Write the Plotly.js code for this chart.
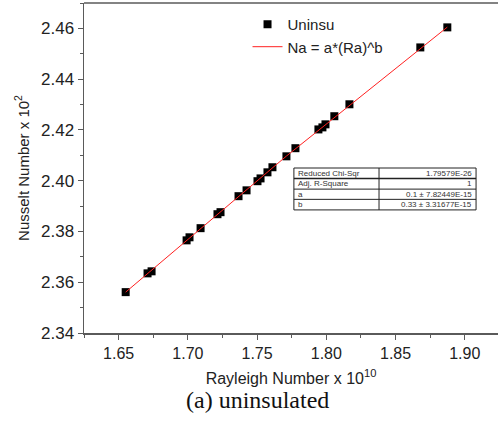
<!DOCTYPE html>
<html>
<head>
<meta charset="utf-8">
<script src="https://cdn.plot.ly/plotly-3.0.1.min.js"></script>
<style>html,body{margin:0;padding:0;background:#fff;overflow:hidden;}#chart{width:498px;height:430px;}</style>
</head>
<body>
<div id="chart"></div>
<script>
// Data
const rayleigh = [1.6551, 1.6709, 1.6738, 1.6991, 1.7012, 1.7092, 1.7214, 1.7236, 1.7366, 1.7424,
                  1.7503, 1.7525, 1.7575, 1.7611, 1.7712, 1.7777, 1.7943, 1.7972, 1.7994, 1.8058,
                  1.8167, 1.8679, 1.8874];
const nusselt  = [2.3561, 2.3635, 2.3643, 2.3765, 2.3777, 2.3813, 2.3868, 2.3876, 2.3939, 2.3962,
                  2.3998, 2.4009, 2.4033, 2.4053, 2.4096, 2.4128, 2.4202, 2.4210, 2.4222, 2.4254,
                  2.4301, 2.4525, 2.4604];
const fitX = [1.6551, 1.7712, 1.8874];
const fitY = [2.3561, 2.4097, 2.4605];
const seriesNames = ["Uninsu", "Na = a*(Ra)^b"];
const tableLabels = ["Reduced Chi-Sqr", "Adj. R-Square", "a", "b"];
const tableValues = ["1.79579E-26", "1", "0.1 \u00b1 7.82449E-15", "0.33 \u00b1 3.31677E-15"];
const xTitle = "Rayleigh Number x 10<sup>10</sup>";
const yTitle = "Nusselt Number x 10<sup>2</sup>";
const caption = "(a) uninsulated";

const axisColor = "#5a5a5a";
const textColor = "#222";

const traces = [
  {x: rayleigh, y: nusselt, mode: "markers", type: "scatter", name: seriesNames[0],
   marker: {symbol: "square", size: 8, color: "#000"}},
  {x: fitX, y: fitY, mode: "lines", type: "scatter", name: seriesNames[1],
   line: {color: "#ff2020", width: 1}}
];

// fit table geometry (paper coords)
const tx0 = 0.507, tx1 = 0.947, tcol = 0.7126;
const rowEdges = [0.5, 0.468, 0.436, 0.405, 0.373];
const shapes = [
  // top border of the frame
  {type: "line", xref: "paper", yref: "paper", x0: 0, x1: 1, y0: 1, y1: 1,
   line: {color: axisColor, width: 1.5}},
  {type: "rect", xref: "paper", yref: "paper", x0: tx0, x1: tx1, y0: rowEdges[4], y1: rowEdges[0],
   line: {color: "#222", width: 1}, fillcolor: "rgba(255,255,255,0)"},
  {type: "line", xref: "paper", yref: "paper", x0: tcol, x1: tcol, y0: rowEdges[4], y1: rowEdges[0],
   line: {color: "#222", width: 1}}
];
for (let i = 1; i < 4; i++) {
  shapes.push({type: "line", xref: "paper", yref: "paper", x0: tx0, x1: tx1, y0: rowEdges[i], y1: rowEdges[i],
    line: {color: "#222", width: i === 1 ? 1.5 : 1}});
}
const annotations = [];
for (let i = 0; i < 4; i++) {
  const yc = (rowEdges[i] + rowEdges[i + 1]) / 2;
  annotations.push({xref: "paper", yref: "paper", x: tx0 + 0.004, y: yc, xanchor: "left", yanchor: "middle",
    text: tableLabels[i], showarrow: false, font: {family: "Liberation Sans", size: 8, color: "#333"}});
  annotations.push({xref: "paper", yref: "paper", x: tx1 - 0.004, y: yc, xanchor: "right", yanchor: "middle",
    text: tableValues[i], showarrow: false, font: {family: "Liberation Sans", size: 8, color: "#333"}});
}
annotations.push({xref: "paper", yref: "paper", x: 0.42, y: -0.203, xanchor: "center", yanchor: "middle",
  text: caption, showarrow: false, font: {family: "Liberation Serif", size: 24, color: "#111"}});

const layout = {
  width: 498, height: 430,
  margin: {l: 84, r: 0, t: 3, b: 97},
  paper_bgcolor: "#fff", plot_bgcolor: "#fff",
  font: {family: "Liberation Sans, Arial, sans-serif", color: textColor},
  showlegend: true,
  legend: {x: 0.395, y: 0.985, xanchor: "left", yanchor: "top", bgcolor: "rgba(0,0,0,0)",
    font: {size: 15, color: textColor}, tracegroupgap: 0},
  xaxis: {
    range: [1.625, 1.924], tick0: 1.65, dtick: 0.05, tickformat: ".2f",
    showgrid: false, zeroline: false, showline: true, mirror: false, linecolor: axisColor, linewidth: 1.5,
    ticks: "outside", ticklen: 5, tickwidth: 1, tickcolor: axisColor,
    minor: {dtick: 0.025, ticks: "outside", ticklen: 3, tickcolor: axisColor, showgrid: false},
    tickfont: {size: 16, color: textColor},
    title: {text: xTitle, font: {size: 16, color: textColor}, standoff: 12}
  },
  yaxis: {
    range: [2.34, 2.47], tick0: 2.34, dtick: 0.02, tickformat: ".2f",
    showgrid: false, zeroline: false, showline: true, mirror: false, linecolor: axisColor, linewidth: 1.5,
    ticks: "outside", ticklen: 5, tickwidth: 1, tickcolor: axisColor,
    minor: {dtick: 0.01, ticks: "outside", ticklen: 3, tickcolor: axisColor, showgrid: false},
    tickfont: {size: 17, color: textColor},
    title: {text: yTitle, font: {size: 15, color: textColor}, standoff: 8}
  },
  shapes: shapes,
  annotations: annotations
};

Plotly.newPlot("chart", traces, layout, {displayModeBar: false, staticPlot: true});
</script>
</body>
</html>
